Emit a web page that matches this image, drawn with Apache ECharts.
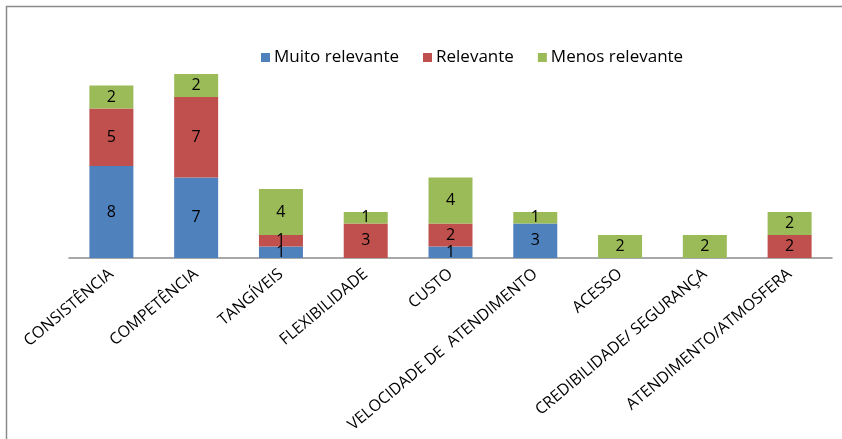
<!DOCTYPE html>
<html>
<head>
<meta charset="utf-8">
<script src="https://cdn.jsdelivr.net/npm/echarts@6/dist/echarts.min.js"></script>
<style>
  html, body { margin: 0; padding: 0; background: #ffffff; }
  #chart { width: 842px; height: 439px; }
</style>
</head>
<body>
<div id="chart"></div>
<script>
// Categories along the horizontal axis
const categories = [
  'CONSISTÊNCIA',
  'COMPETÊNCIA',
  'TANGÍVEIS',
  'FLEXIBILIDADE',
  'CUSTO',
  'VELOCIDADE DE  ATENDIMENTO',
  'ACESSO',
  'CREDIBILIDADE/ SEGURANÇA',
  'ATENDIMENTO/ATMOSFERA'
];

// Counts per relevance level
const muitoRelevante = [8, 7, 1, 0, 1, 3, 0, 0, 0];
const relevante      = [5, 7, 1, 3, 2, 0, 0, 0, 2];
const menosRelevante = [2, 2, 4, 1, 4, 1, 2, 2, 2];

const seriesNames = ['Muito relevante', 'Relevante', 'Menos relevante'];
const seriesColors = ['#4F81BD', '#C0504D', '#9BBB59'];

const FONT = '"Open Sans"';

const chart = echarts.init(document.getElementById('chart'), null, { renderer: 'canvas' });

function makeSeries(name, data, color) {
  return {
    name: name,
    type: 'bar',
    stack: 'total',
    data: data,
    barWidth: 44,
    itemStyle: { color: color },
    label: {
      show: true,
      position: 'inside',
      color: '#000000',
      fontFamily: FONT,
      fontSize: 16,
      formatter: p => (p.value ? String(p.value) : '')
    },
    emphasis: { disabled: true }
  };
}

chart.setOption({
  animation: false,
  backgroundColor: '#ffffff',
  textStyle: { fontFamily: FONT },
  graphic: [{
    type: 'rect',
    shape: { x: 6.5, y: 6.5, width: 900, height: 500 },
    style: { fill: 'none', stroke: '#8c8c8c', lineWidth: 1.5 },
    silent: true,
    z: -1
  }],
  legend: {
    left: 256,
    top: 44,
    itemWidth: 9,
    itemHeight: 9,
    itemGap: 24,
    icon: 'rect',
    textStyle: { fontFamily: FONT, fontSize: 17, color: '#000000', padding: [0, 0, 0, -1] },
    data: seriesNames
  },
  grid: {
    left: 69, right: 10, top: 51, bottom: 181,
    containLabel: false,
    outerBoundsMode: 'none'
  },
  xAxis: {
    type: 'category',
    data: categories,
    axisLine: { lineStyle: { color: '#8c8c8c', width: 1.5 } },
    axisTick: { show: false },
    axisLabel: {
      interval: 0,
      rotate: 40,
      margin: 14,
      fontFamily: FONT,
      fontSize: 16,
      color: '#000000'
    }
  },
  yAxis: {
    type: 'value',
    min: 0,
    max: 18,
    show: false,
    splitLine: { show: false }
  },
  series: [
    makeSeries(seriesNames[0], muitoRelevante, seriesColors[0]),
    makeSeries(seriesNames[1], relevante, seriesColors[1]),
    makeSeries(seriesNames[2], menosRelevante, seriesColors[2])
  ]
});
</script>
</body>
</html>
